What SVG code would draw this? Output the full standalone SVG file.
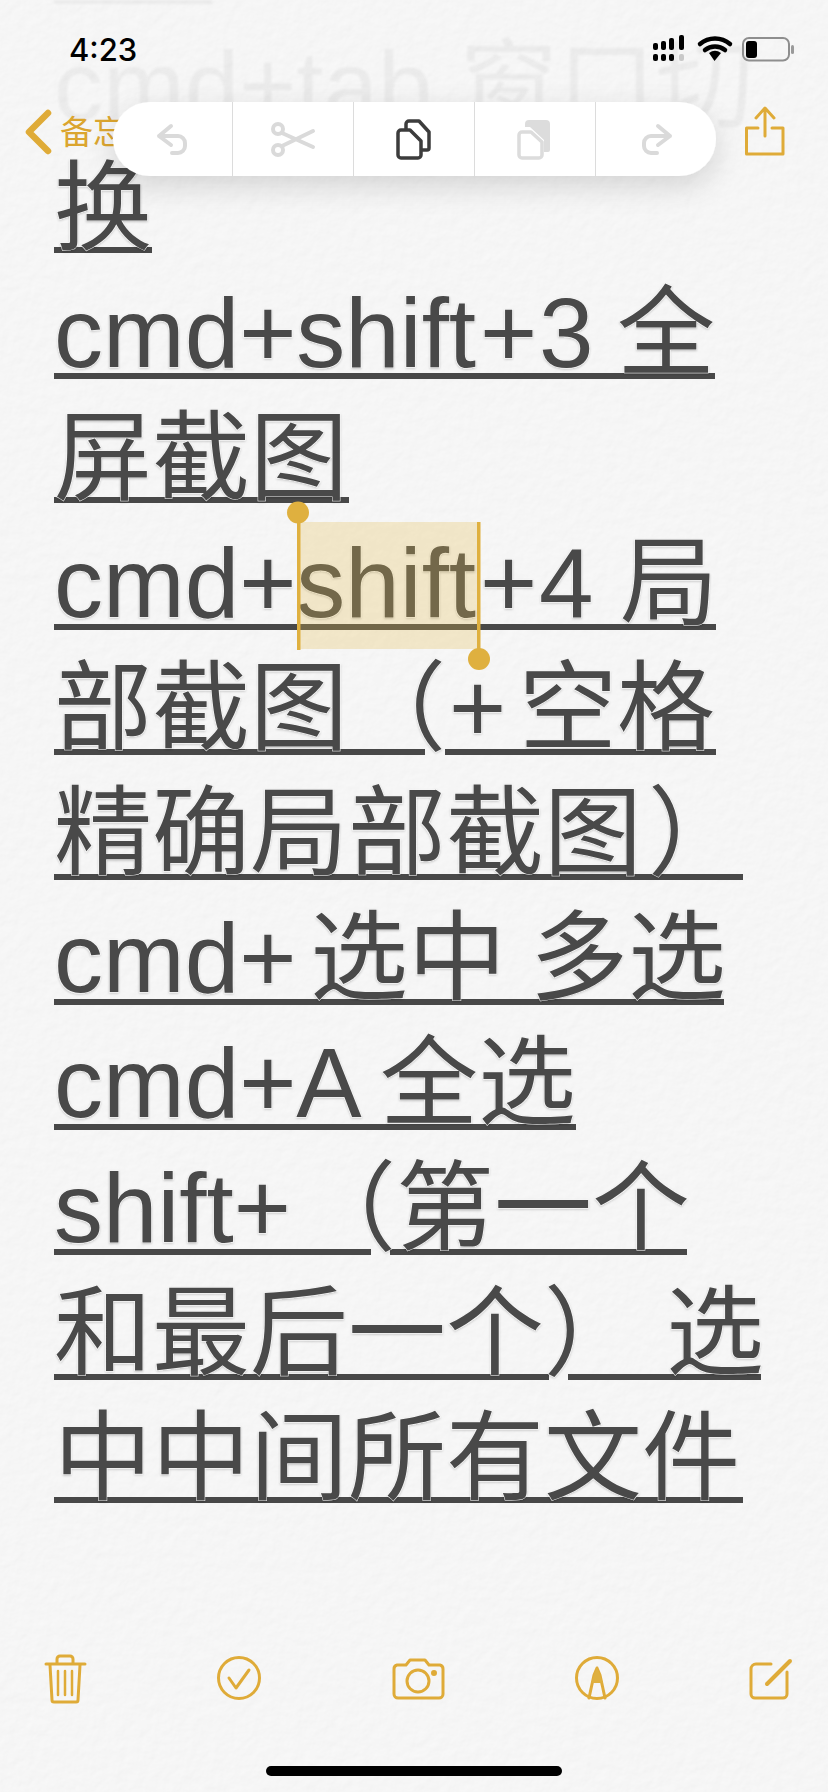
<svg xmlns="http://www.w3.org/2000/svg" width="828" height="1792" viewBox="0 0 828 1792">
<defs>
<filter id="paper" x="0" y="0" width="100%" height="100%" color-interpolation-filters="sRGB">
<feTurbulence type="fractalNoise" baseFrequency="0.09" numOctaves="3" seed="4" result="n"/>
<feDiffuseLighting in="n" surfaceScale="0.22" diffuseConstant="1" lighting-color="#f6f6f6"><feDistantLight azimuth="60" elevation="78"/></feDiffuseLighting>
<feColorMatrix type="matrix" values="1.02 0 0 0 0 0 1.02 0 0 0 0 0 1.02 0 0 0 0 0 1 0"/>
</filter>
<filter id="soft" x="-5%" y="-10%" width="110%" height="125%"><feDropShadow dx="0" dy="1" stdDeviation="1.300" flood-color="#000" flood-opacity=".2"/></filter>
<filter id="pillsh" x="-10%" y="-30%" width="120%" height="190%"><feDropShadow dx="0" dy="10" stdDeviation="14" flood-color="#000" flood-opacity=".14"/></filter>
<filter id="fade"><feGaussianBlur stdDeviation="1"/></filter>
</defs>
<style>
.t{font-family:"Liberation Sans","Noto Sans CJK SC",sans-serif;font-size:98px;fill:#484848;stroke:#f6f6f6;stroke-width:1px;paint-order:stroke}
.c{font-family:"Noto Sans CJK SC","Liberation Sans",sans-serif}
.u{fill:#484848}
.g{fill:none;stroke:#dfab38;stroke-width:3;stroke-linecap:round;stroke-linejoin:round}
.gf{fill:#dfb03f}
.gr{fill:none;stroke:#dadada;stroke-width:4;stroke-linecap:round;stroke-linejoin:round}
.d{fill:#dcdcdc}
</style>
<rect width="828" height="1792" fill="#f6f6f6"/>
<rect width="828" height="1792" filter="url(#paper)"/>
<g id="faded" opacity=".06" filter="url(#fade)">
<rect x="54" y="0" width="158" height="4" class="u"/>
<text x="54" y="120" style="font-family:'Liberation Sans','Noto Sans CJK SC',sans-serif;font-size:98px;fill:#484848">cmd+tab 窗口切</text>
</g>
<g id="underlines" class="u">
<rect x="54" y="247" width="98" height="6"/>
<rect x="54" y="373" width="661" height="6"/>
<rect x="54" y="497" width="295" height="6"/>
<rect x="54" y="624" width="662" height="6"/>
<rect x="54" y="749" width="371" height="6"/><rect x="445" y="749" width="271" height="6"/>
<rect x="54" y="874" width="689" height="6"/>
<rect x="54" y="999" width="670" height="6"/>
<rect x="54" y="1124" width="522" height="6"/>
<rect x="54" y="1249" width="317" height="6"/><rect x="390" y="1249" width="297" height="6"/>
<rect x="54" y="1374" width="495" height="6"/><rect x="568" y="1374" width="193" height="6"/>
<rect x="54" y="1497" width="689" height="6"/>
</g>
<g id="note" class="t" filter="url(#soft)">
<text x="54" y="242" class="c">换</text>
<text y="367"><tspan x="54">cmd+shift</tspan><tspan x="480">+</tspan><tspan x="539">3</tspan><tspan x="617" class="c">全</tspan></text>
<text x="54" y="492" class="c">屏截图</text>
<text y="617"><tspan x="54">cmd+shift</tspan><tspan x="480">+</tspan><tspan x="539">4</tspan><tspan x="620" class="c">局</tspan></text>
<text y="742"><tspan x="54" class="c">部截图（</tspan><tspan x="449">+</tspan><tspan x="519" class="c">空格</tspan></text>
<text y="867"><tspan x="54" class="c">精确局部截图</tspan><tspan x="648" class="c">）</tspan></text>
<text y="992"><tspan x="54">cmd+</tspan><tspan x="310" class="c">选中</tspan><tspan x="530" class="c">多选</tspan></text>
<text y="1117"><tspan x="54">cmd+A</tspan><tspan x="380" class="c">全选</tspan></text>
<text y="1242"><tspan x="54">shift+</tspan><tspan x="298" class="c">（第一个</tspan></text>
<text y="1367" class="c"><tspan x="54">和最后一个）</tspan><tspan x="666">选</tspan></text>
<text x="54" y="1492" class="c">中中间所有文件</text>
</g>
<g id="selection">
<rect x="298" y="522" width="181" height="127" fill="#e5bd4f" opacity=".27"/>
<rect x="297" y="522" width="3.500" height="128" class="gf"/>
<rect x="477" y="522" width="3.500" height="128" class="gf"/>
<circle cx="298" cy="512.500" r="11" class="gf"/>
<circle cx="479" cy="659" r="11" class="gf"/>
</g>
<g id="status">
<text x="69" y="61" style="font-family:Inter,'Liberation Sans',sans-serif;font-size:31px;font-weight:500;fill:#000">4:23</text>
<g fill="#000">
<rect x="653" y="43" width="5" height="7" rx="2"/><rect x="661" y="41" width="5" height="9" rx="2"/><rect x="669" y="38" width="5" height="12" rx="2"/><rect x="679" y="35" width="5" height="15" rx="2"/>
<rect x="653" y="54" width="5" height="7" rx="2"/><rect x="661" y="54" width="5" height="7" rx="2"/><rect x="669" y="54" width="5" height="7" rx="2"/><rect x="679" y="54" width="5" height="7" rx="2" fill="#c8c8c8"/>
<path d="M700 47a23 23 0 0 1 30 0" fill="none" stroke="#000" stroke-width="4.500" stroke-linecap="round" transform="translate(0 -3)"/>
<path d="M705 50a16 16 0 0 1 20 0" fill="none" stroke="#000" stroke-width="4.500" stroke-linecap="round"/>
<path d="M709 53a10 10 0 0 1 12 0L714.500 61z"/>
</g>
<rect x="743" y="38" width="46" height="22.500" rx="6" fill="none" stroke="#8e8e8e" stroke-width="2"/>
<rect x="746" y="41" width="11" height="17" rx="3" fill="#000"/>
<rect x="791" y="45" width="3" height="9" rx="1.500" fill="#9a9a9a"/>
</g>
<g id="nav">
<path d="M48 113L29 132L48 151" fill="none" stroke="#dfab38" stroke-width="6.500" stroke-linecap="round" stroke-linejoin="round"/>
<text x="60" y="144" style="font-family:'Noto Sans CJK SC',sans-serif;font-size:33px;fill:#dba52f">备忘</text>
<g class="g"><path d="M765 110V136M756 118L765 108L774 118"/><path d="M758 128H746.500V154H783V128H772"/></g>
</g>
<g id="popup">
<rect x="113" y="102" width="603" height="74" rx="37" fill="#fff" filter="url(#pillsh)"/>
<g fill="#dcdcdc"><rect x="232" y="102" width="1" height="74"/><rect x="353" y="102" width="1" height="74"/><rect x="474" y="102" width="1" height="74"/><rect x="595" y="102" width="1" height="74"/></g>
<path class="gr" d="M171 126L159 136L171 145M159 136H178a7 7 0 0 1 7 7V146a7 7 0 0 1-7 7H172"/>
<g class="gr"><circle cx="278" cy="129" r="5"/><circle cx="278" cy="150" r="5"/><path d="M282 133L313 147M282 146L313 131"/></g>
<path class="gr" d="M658 126L670 136L658 145M670 136H651a7 7 0 0 0-7 7V146a7 7 0 0 0 7 7H657"/>
<g fill="none" stroke="#3c3c3c" stroke-width="3.500" stroke-linejoin="round"><path d="M401 130H410L421 141V155a3 3 0 0 1-3 3H401a3 3 0 0 1-3-3V133a3 3 0 0 1 3-3z" fill="#fff"/><path d="M406 129V124a3 3 0 0 1 3-3H419L429 132V148a2 2 0 0 1-2 2H422"/></g>
<path class="d" d="M525 124a4 4 0 0 1 4-4H546a4 4 0 0 1 4 4V150a2 2 0 0 1-2 2H544V140L530 127H525z"/>
<path fill="#fff" stroke="#dcdcdc" stroke-width="3.500" stroke-linejoin="round" d="M522 132H531L542 142V155a3 3 0 0 1-3 3H522a3 3 0 0 1-3-3V135a3 3 0 0 1 3-3z"/>
</g>
<g id="toolbar">
<g class="g"><path d="M46 1664H85M57 1663V1659a3 3 0 0 1 3-3H70a3 3 0 0 1 3 3V1663"/><path d="M50 1665L52 1700a2 2 0 0 0 2 2H76a2 2 0 0 0 2-2L80 1665"/><path d="M58 1671V1695M65 1671V1695M72 1671V1695" stroke-width="2.500"/></g>
<g class="g"><circle cx="239" cy="1678" r="20.500"/><path d="M229 1678L236 1688L249 1670"/></g>
<g class="g"><path d="M397 1665H406L410 1660H425L429 1665H440a4 4 0 0 1 3 4V1694a4 4 0 0 1-4 4H398a4 4 0 0 1-4-4V1669a4 4 0 0 1 3-4z"/><circle cx="418" cy="1681" r="11"/><circle cx="434" cy="1673" r="1.500"/></g>
<g class="g"><circle cx="597" cy="1678" r="20.500"/><path d="M589 1698L594 1675L597 1668L600 1675L605 1698"/></g>
<path class="gf" d="M597 1667L603 1683H591z"/>
<g class="g"><path d="M771 1664H756a5 5 0 0 0-5 5V1694a4 4 0 0 0 4 4H783a4 4 0 0 0 4-4V1672"/><path d="M767 1684L790 1661" stroke-width="4"/></g>
</g>
<rect id="home" x="266" y="1766" width="296" height="10" rx="5" fill="#000"/>
</svg>
